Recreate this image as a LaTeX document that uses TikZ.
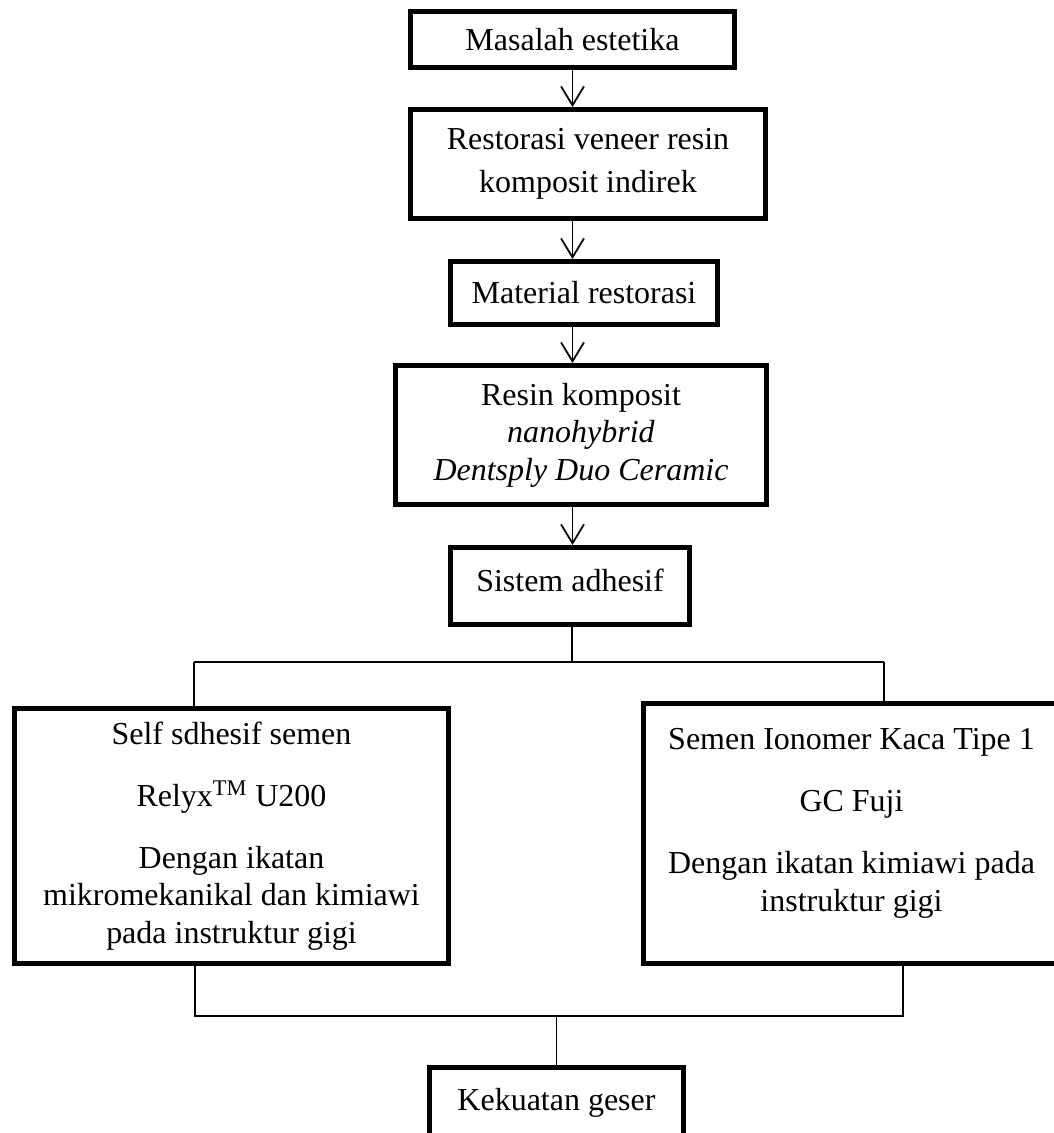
\documentclass[tikz,border=0pt]{standalone}
\usepackage{fontspec}
\setmainfont{Liberation Serif}
\usetikzlibrary{arrows.meta}

\begin{document}
\begin{tikzpicture}[
  box/.style={draw,line width=0.1cm,align=center,inner sep=0pt,
    font=\fontsize{18.2pt}{21.3pt}\selectfont},
  link/.style={line width=0.035cm},
  arr/.style={link,-{Straight Barb[length=0.38cm,width=0.46cm]}}]
\useasboundingbox (0,0) rectangle (21.08,-22.66);

% Main column
\node[box,minimum width=6.48cm,minimum height=1.12cm] (masalah) at (11.45,-0.79) {Masalah estetika};
\node[box,minimum width=7.1cm,minimum height=2.18cm] (restorasi) at (11.76,-3.28)
  {Restorasi veneer resin\\[3pt]komposit indirek};
\node[box,minimum width=5.34cm,minimum height=1.26cm] (material) at (11.68,-5.86) {Material restorasi};
\node[box,minimum width=7.42cm,minimum height=2.78cm] (resin) at (11.62,-8.70)
  {Resin komposit\\\textit{nanohybrid}\\\textit{Dentsply Duo Ceramic}};
\node[box,minimum width=4.78cm,minimum height=1.54cm,text depth=0.24cm] (sistem) at (11.40,-11.72) {Sistem adhesif};

\draw[arr] (masalah.south) -- (masalah.south |- restorasi.north);
\draw[arr] (masalah.south |- restorasi.south) -- (masalah.south |- material.north);
\draw[arr] (masalah.south |- material.south) -- (masalah.south |- resin.north);
\draw[arr] (masalah.south |- resin.south) -- (masalah.south |- sistem.north);

% Cements
\node[box,minimum width=8.68cm,minimum height=5.1cm] (selfsemen) at (4.63,-16.72)
  {Self sdhesif semen\\[14pt]Relyx\textsuperscript{TM} U200\\[14pt]Dengan ikatan\\mikromekanikal dan kimiawi\\pada instruktur gigi};
\node[box,minimum width=8.32cm,minimum height=5.2cm,text depth=0.55cm] (ionomer) at (17.03,-16.67)
  {Semen Ionomer Kaca Tipe 1\\[14pt]GC Fuji\\[14pt]Dengan ikatan kimiawi pada\\instruktur gigi};

\coordinate (split) at (11.44,-13.24);
\coordinate (splitL) at (3.88,-13.24);
\coordinate (splitR) at (17.68,-13.24);
\draw[link] (sistem.south -| split) -- (split);
\draw[link] (splitL) -- (splitR);
\draw[link] (splitL) -- (splitL |- selfsemen.north);
\draw[link] (splitR) -- (splitR |- ionomer.north);

% Result
\node[box,minimum width=5.08cm,minimum height=1.4cm] (kekuatan) at (11.13,-22.05) {Kekuatan geser};

\coordinate (joinL) at (3.9,-20.32);
\coordinate (joinR) at (18.06,-20.32);
\draw[link] (selfsemen.south -| joinL) -- (joinL) -- (joinR) -- (ionomer.south -| joinR);
\draw[link] (kekuatan.north |- joinL) -- (kekuatan.north);
\end{tikzpicture}
\end{document}
